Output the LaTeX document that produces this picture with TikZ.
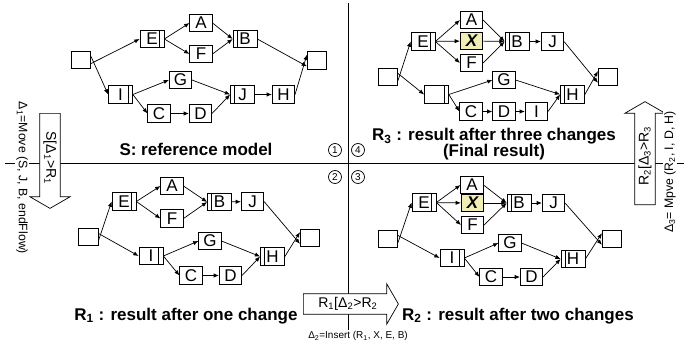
\documentclass[tikz,border=0pt]{standalone}
\usepackage{fontspec}
\setmainfont{Liberation Sans}
\usetikzlibrary{arrows.meta, shapes.arrows, positioning}
\definecolor{newfill}{RGB}{240,238,182}

\begin{document}
\begin{tikzpicture}[->,>={Latex[length=4.5pt,width=3.6pt]},line width=0.6pt,
  x=0.03cm, y=-0.03cm,
  sq node/.style={rectangle,draw,inner sep=0pt,minimum width=0.67cm,minimum height=0.52cm,
    font=\fontsize{14.5}{16}\selectfont},
  ev node/.style={sq node,minimum width=0.58cm},
  split node/.style={sq node,minimum width=0.72cm,path picture={
    \draw[-] ([xshift=-0.13cm]path picture bounding box.north east)
      -- ([xshift=-0.13cm]path picture bounding box.south east);}},
  join node/.style={sq node,minimum width=0.72cm,path picture={
    \draw[-] ([xshift=0.13cm]path picture bounding box.north west)
      -- ([xshift=0.13cm]path picture bounding box.south west);}},
  new node/.style={sq node,fill=newfill,font=\fontsize{14.5}{16}\selectfont\bfseries\itshape},
  title node/.style={anchor=base,inner sep=0pt,font=\fontsize{14.5}{16}\selectfont\bfseries},
  num node/.style={circle,draw,inner sep=0pt,minimum size=0.39cm,font=\fontsize{8.5}{9}\selectfont},
  change arrow/.style={single arrow,draw,fill=white,anchor=tail,
    single arrow head extend=8.5pt,single arrow tip angle=120,
    text height=9pt,text depth=3pt,inner ysep=2.5pt,inner xsep=3pt,
    font=\fontsize{12}{13}\selectfont},
  delta node/.style={fill=white,inner sep=1pt,font=\fontsize{10.5}{12}\selectfont}]

  \useasboundingbox[fill=white] (0,0) rectangle (686,356);

  % quadrant axes
  \draw[-] (5,163.5) -- (684,163.5);
  \draw[-] (348,3) -- (348,336);
  \node[num node] (n1) at (335,150) {1};
  \node[num node] (n4) at (358,150) {4};
  \node[num node] (n2) at (335,177) {2};
  \node[num node] (n3) at (358,177) {3};

  % S: reference model
  \node[ev node] (s0) at (81,60) {};
  \node[split node] (sE) at (152,39) {E};
  \node[sq node] (sA) at (201,23) {A};
  \node[sq node] (sF) at (201,54) {F};
  \node[join node] (sB) at (245,39) {B};
  \node[ev node] (s9) at (317,60.5) {};
  \node[split node] (sI) at (120.5,94.5) {I};
  \node[sq node] (sG) at (180.5,80) {G};
  \node[sq node] (sC) at (159,113.5) {C};
  \node[sq node] (sD) at (200.5,113.5) {D};
  \node[join node] (sJ) at (242.5,94.5) {J};
  \node[sq node] (sH) at (283.5,94.5) {H};
  \path ([yshift=-3pt]s0.east) edge (sE.west)
    ([yshift=3pt]s0.east) edge (sI.west)
    (sE.east) edge (sA.west)
    (sE.east) edge (sF.west)
    (sA.east) edge (sB.west)
    (sF.east) edge (sB.west)
    (sB.east) edge ([yshift=-5pt]s9.west)
    (sI.east) edge (sG.west)
    (sI.east) edge (sC.west)
    (sC) edge (sD)
    (sG.east) edge (sJ.west)
    (sD.east) edge (sJ.west)
    (sJ) edge (sH)
    (sH.east) edge ([yshift=5pt]s9.west);
  \node[title node] (sT) at (196,155) {S: reference model};

  % R1: after one change
  \node[ev node] (a0) at (88.5,237) {};
  \node[split node] (aE) at (124,201.5) {E};
  \node[sq node] (aA) at (172,186) {A};
  \node[sq node] (aF) at (172,218.5) {F};
  \node[join node] (aB) at (219.5,202) {B};
  \node[sq node] (aJ) at (252.5,201.5) {J};
  \node[ev node] (a9) at (310,238) {};
  \node[split node] (aI) at (151,256) {I};
  \node[sq node] (aG) at (210,241) {G};
  \node[sq node] (aC) at (191,275.5) {C};
  \node[sq node] (aD) at (230.5,275.5) {D};
  \node[join node] (aH) at (272.5,256.5) {H};
  \path ([yshift=-3pt]a0.east) edge (aE.west)
    ([yshift=3pt]a0.east) edge (aI.west)
    (aE.east) edge (aA.west)
    (aE.east) edge (aF.west)
    (aA.east) edge (aB.west)
    (aF.east) edge (aB.west)
    (aB) edge (aJ)
    (aJ.east) edge ([yshift=-5pt]a9.west)
    (aI.east) edge (aG.west)
    (aI.east) edge (aC.west)
    (aC) edge (aD)
    (aG.east) edge (aH.west)
    (aD.east) edge (aH.west)
    (aH.east) edge ([yshift=5pt]a9.west);
  \node[title node] (aT) at (186,320) {R\textsubscript{1} : result after one change};

  % R2: after two changes
  \node[ev node] (b0) at (388,239) {};
  \node[split node] (bE) at (424,202.5) {E};
  \node[sq node] (bA) at (472,185) {A};
  \node[new node] (bX) at (472.5,203) {X};
  \node[sq node] (bF) at (472.5,225) {F};
  \node[join node] (bB) at (519,203) {B};
  \node[sq node] (bJ) at (553.5,203) {J};
  \node[ev node] (b9) at (612,239) {};
  \node[split node] (bI) at (452,258) {I};
  \node[sq node] (bG) at (510,243) {G};
  \node[sq node] (bC) at (491,277) {C};
  \node[sq node] (bD) at (531.5,277) {D};
  \node[join node] (bH) at (573,259) {H};
  \path ([yshift=-3pt]b0.east) edge (bE.west)
    ([yshift=3pt]b0.east) edge (bI.west)
    (bE.east) edge (bA.west)
    (bE) edge (bX)
    (bE.east) edge (bF.west)
    (bA.east) edge (bB.west)
    (bX) edge (bB)
    (bF.east) edge (bB.west)
    (bB) edge (bJ)
    (bJ.east) edge ([yshift=-5pt]b9.west)
    (bI.east) edge (bG.west)
    (bI.east) edge (bC.west)
    (bC) edge (bD)
    (bG.east) edge (bH.west)
    (bD.east) edge (bH.west)
    (bH.east) edge ([yshift=5pt]b9.west);
  \node[title node] (bT) at (518,320) {R\textsubscript{2} : result after two changes};

  % R3: after three changes
  \node[ev node] (c0) at (388,77) {};
  \node[split node] (cE) at (423,41.5) {E};
  \node[sq node] (cA) at (471.5,20) {A};
  \node[new node] (cX) at (471.5,41) {X};
  \node[sq node] (cF) at (471.5,63) {F};
  \node[join node] (cB) at (517,41.5) {B};
  \node[sq node] (cJ) at (552.5,41.5) {J};
  \node[ev node] (c9) at (608,77) {};
  \node[split node] (cK) at (436.5,94.5) {};
  \node[sq node] (cG) at (504,80) {G};
  \node[sq node] (cC) at (471,111.5) {C};
  \node[sq node] (cD) at (504,111.5) {D};
  \node[sq node] (cI) at (536.5,111.5) {I};
  \node[join node] (cH) at (572.5,94.5) {H};
  \path ([yshift=-3pt]c0.east) edge (cE.west)
    ([yshift=3pt]c0.east) edge (cK.west)
    (cE.east) edge (cA.west)
    (cE) edge (cX)
    (cE.east) edge (cF.west)
    (cA.east) edge (cB.west)
    (cX) edge (cB)
    (cF.east) edge (cB.west)
    (cB) edge (cJ)
    (cJ.east) edge ([yshift=-5pt]c9.west)
    (cK.east) edge (cG.west)
    (cK.east) edge (cC.west)
    (cC) edge (cD)
    (cD) edge (cI)
    (cG.east) edge (cH.west)
    (cI.east) edge (cH.west)
    (cH.east) edge ([yshift=5pt]c9.west);
  \node[title node,anchor=north,align=center] (cT) at (494,128)
    {R\textsubscript{3} : result after three changes\\[-2.5pt](Final result)};

  % change operations
  \node[change arrow,rotate=-90,minimum height=2.85cm] (m1) at (50,113)
    {S[Δ\textsubscript{1}>R\textsubscript{1}};
  \node[change arrow,minimum height=2.85cm] (m2) at (303,304)
    {R\textsubscript{1}[Δ\textsubscript{2}>R\textsubscript{2}};
  \node[change arrow,rotate=90,minimum height=3.09cm] (m3) at (645,205)
    {R\textsubscript{2}[Δ\textsubscript{3}>R\textsubscript{3}};
  \node[delta node,rotate=-90] (d1) at (22,178)
    {Δ\textsubscript{1}=Move (S, J, B, endFlow)};
  \node[delta node,font=\fontsize{8.5}{10}\selectfont] (d2) at (358,336)
    {Δ\textsubscript{2}=Insert (R\textsubscript{1}, X, E, B)};
  \node[delta node,rotate=90] (d3) at (670,172)
    {Δ\textsubscript{3}= Mpve (R\textsubscript{2}, I, D, H)};
\end{tikzpicture}
\end{document}
